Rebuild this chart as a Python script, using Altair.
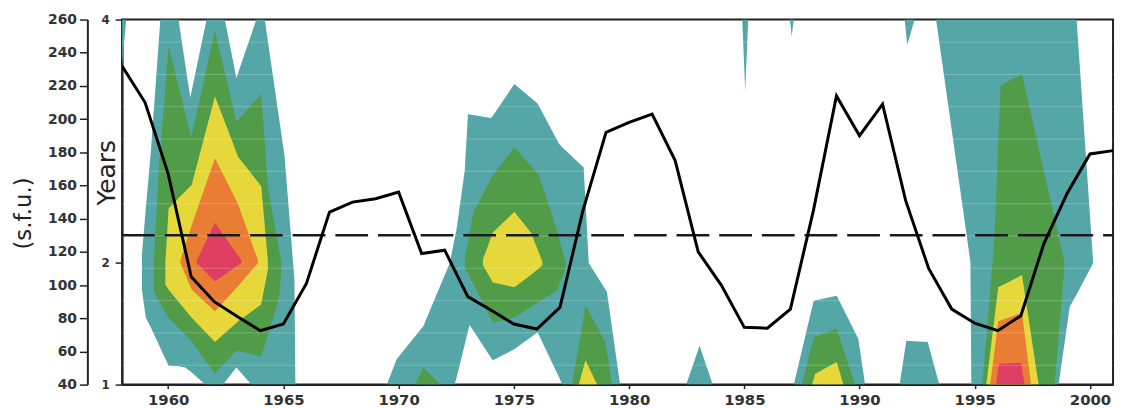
import altair as alt
import pandas as pd

# ---------------- data ----------------
# solar radio flux (s.f.u.), yearly
flux_years = list(range(1958, 2002))
flux_values = [232, 210, 167, 105, 90, 81, 72.5, 76.5, 101, 144,
               150, 152, 156, 119, 121, 93, 85, 76.5, 73.5, 86.5,
               145, 192, 198, 203, 175, 120, 100, 74.5, 74, 85.5,
               145, 214, 190, 209, 151, 110, 85.5, 77, 72.5, 81.5,
               125, 155, 179, 181]
# dashed reference level across the whole span
ref_years = [1958, 2001]
ref_flux = [130, 130]

# wavelet power contours: (year, lower period, upper period) in years
teal_1958 = [(1958.0, 3.62, 4.0), (1958.18, 4.0, 4.0)]
teal_1962 = [(1958.86, 1.78, 2.07), (1959.03, 1.55, 2.45), (1959.25, 1.47, 2.92),
             (1959.66, 1.30, 4.0), (1960.02, 1.155, 4.0), (1960.45, 1.15, 4.0),
             (1960.74, 1.14, 3.63), (1960.96, 1.11, 3.36), (1961.61, 1.0, 3.95),
             (1961.67, 1.0, 4.0), (1962.39, 1.0, 4.0), (1962.46, 1.02, 4.0),
             (1962.96, 1.14, 3.52), (1963.61, 1.0, 3.88), (1963.82, 1.0, 4.0),
             (1964.19, 1.0, 4.0), (1965.05, 1.0, 2.88), (1965.48, 1.0, 1.86),
             (1965.52, 1.0, 1.0)]
teal_1975 = [(1969.49, 1.0, 1.0), (1969.92, 1.0, 1.21), (1971.07, 1.0, 1.48),
             (1972.22, 1.0, 2.0), (1972.43, 1.0, 2.2), (1972.51, 1.055, 2.27),
             (1972.87, 1.33, 2.76), (1973.01, 1.44, 3.225), (1973.08, 1.49, 3.22),
             (1974.01, 1.22, 3.19), (1974.09, 1.20, 3.21), (1975.02, 1.29, 3.47),
             (1976.03, 1.43, 3.31), (1976.96, 1.06, 2.98), (1977.10, 1.0, 2.95),
             (1978.03, 1.0, 2.785), (1978.25, 1.0, 2.0), (1979.04, 1.0, 1.76),
             (1979.61, 1.0, 1.0)]
teal_1983 = [(1982.48, 1.0, 1.0), (1983.06, 1.0, 1.32), (1983.63, 1.0, 1.0)]
teal_1985 = [(1984.91, 4.0, 4.0), (1985.04, 3.41, 4.0), (1985.17, 4.0, 4.0)]
teal_1987 = [(1986.98, 4.0, 4.0), (1987.06, 3.86, 4.0), (1987.14, 4.0, 4.0)]
teal_1988 = [(1987.15, 1.0, 1.0), (1988.01, 1.0, 1.69), (1989.01, 1.0, 1.73),
             (1989.95, 1.0, 1.375), (1990.24, 1.0, 1.0)]
teal_1992_low = [(1991.74, 1.0, 1.0), (1992.03, 1.0, 1.36), (1992.96, 1.0, 1.35),
                 (1993.46, 1.0, 1.0)]
teal_1992_high = [(1991.96, 4.0, 4.0), (1992.07, 3.79, 4.0), (1992.39, 4.0, 4.0)]
teal_1997 = [(1993.32, 4.0, 4.0), (1994.81, 2.01, 4.0), (1994.85, 1.0, 4.0),
             (1998.64, 1.0, 4.0), (1999.12, 1.64, 4.0), (1999.42, 1.74, 4.0),
             (2000.14, 2.0, 2.0)]

green_1962 = [(1959.38, 1.77, 2.01), (1959.59, 1.69, 2.76), (1960.02, 1.55, 3.78),
              (1961.0, 1.36, 3.03), (1962.03, 1.09, 3.91), (1962.96, 1.28, 3.16),
              (1964.04, 1.23, 3.39), (1964.33, 1.41, 2.62), (1964.80, 1.70, 2.12),
              (1964.90, 1.90, 2.01)]
green_1971 = [(1970.71, 1.0, 1.0), (1971.07, 1.0, 1.14), (1971.82, 1.0, 1.0)]
green_1975 = [(1972.87, 1.96, 2.03), (1973.23, 1.83, 2.41), (1974.09, 1.51, 2.72),
              (1975.02, 1.55, 2.95), (1976.09, 1.68, 2.72), (1976.67, 1.75, 2.39),
              (1976.89, 1.78, 2.25), (1977.25, 1.96, 2.0)]
green_1978 = [(1977.53, 1.0, 1.0), (1978.11, 1.0, 1.65), (1978.97, 1.0, 1.35),
              (1979.26, 1.0, 1.0)]
green_1988 = [(1987.5, 1.0, 1.0), (1988.01, 1.0, 1.39), (1989.01, 1.0, 1.46),
              (1989.8, 1.0, 1.0)]
green_1997 = [(1995.33, 1.0, 1.0), (1995.85, 1.0, 2.19), (1996.12, 1.0, 3.46),
              (1997.05, 1.0, 3.55), (1998.47, 1.0, 2.36), (1998.90, 2.0, 2.0)]

yellow_1962 = [(1959.88, 1.82, 2.01), (1960.02, 1.78, 2.45), (1961.02, 1.55, 2.64),
               (1962.03, 1.35, 3.37), (1963.04, 1.52, 2.87), (1964.04, 1.66, 2.63),
               (1964.33, 1.95, 2.01)]
yellow_1975 = [(1973.66, 1.98, 2.03), (1974.09, 1.84, 2.25), (1975.02, 1.80, 2.42),
               (1975.74, 1.90, 2.25), (1976.24, 1.98, 2.01)]
yellow_1978 = [(1977.82, 1.0, 1.0), (1978.11, 1.0, 1.20), (1978.61, 1.0, 1.0)]
yellow_1988 = [(1987.94, 1.0, 1.0), (1988.08, 1.0, 1.09), (1989.01, 1.0, 1.185),
               (1989.3, 1.0, 1.0)]
yellow_1997 = [(1995.50, 1.0, 1.0), (1996.02, 1.0, 1.80), (1997.05, 1.0, 1.90),
               (1997.77, 1.0, 1.0)]

orange_1962 = [(1960.53, 2.0, 2.02), (1961.02, 1.78, 2.31), (1962.03, 1.60, 2.86),
               (1963.04, 1.81, 2.48), (1963.90, 2.0, 2.02)]
orange_1997 = [(1995.67, 1.0, 1.0), (1996.02, 1.0, 1.52), (1997.05, 1.0, 1.59),
               (1997.44, 1.0, 1.0)]

pink_1962 = [(1961.24, 2.0, 2.02), (1962.03, 1.85, 2.33), (1963.18, 2.0, 2.02)]
pink_1997 = [(1995.93, 1.0, 1.0), (1996.04, 1.0, 1.17), (1997.01, 1.0, 1.18),
             (1997.16, 1.0, 1.0)]

levels = ["teal", "green", "yellow", "orange", "pink"]
level_colors = ["#55a7a7", "#509c49", "#e6d83a", "#e97d33", "#de3e62"]
level_blobs = {
    "teal": {"t1958": teal_1958, "t1962": teal_1962, "t1975": teal_1975,
             "t1983": teal_1983, "t1985": teal_1985, "t1987": teal_1987,
             "t1988": teal_1988, "t1992l": teal_1992_low, "t1992h": teal_1992_high,
             "t1997": teal_1997},
    "green": {"g1962": green_1962, "g1971": green_1971, "g1975": green_1975,
              "g1978": green_1978, "g1988": green_1988, "g1997": green_1997},
    "yellow": {"y1962": yellow_1962, "y1975": yellow_1975, "y1978": yellow_1978,
               "y1988": yellow_1988, "y1997": yellow_1997},
    "orange": {"o1962": orange_1962, "o1997": orange_1997},
    "pink": {"p1962": pink_1962, "p1997": pink_1997},
}

# faint light banding visible across the coloured fields
band_periods = [3.815, 3.549, 3.284, 3.018, 2.753, 2.487, 2.222, 1.956, 1.690, 1.425, 1.159]

year_ticks = list(range(1960, 2001, 5))
period_ticks = [1, 2, 4]
flux_ticks = list(range(40, 261, 20))

# ---------------- tables ----------------
rows = []
for lev in levels:
    for name, pts in level_blobs[lev].items():
        for (yr, lo, hi) in pts:
            rows.append({"level": lev, "blob": name, "year": yr, "lo": lo, "hi": hi})
contours = pd.DataFrame(rows)
flux_df = pd.DataFrame({"year": flux_years, "flux": flux_values})
ref_df = pd.DataFrame({"year": ref_years, "flux": ref_flux})
bands_df = pd.DataFrame({"p": band_periods})

FONT = "DejaVu Sans"

x_scale = alt.Scale(domain=[1958, 2001], nice=False, zero=False)
x_axis = alt.Axis(values=year_ticks, format="d", title=None, grid=False,
                  tickSize=4, tickColor="#222", tickWidth=1.5,
                  domainColor="#222", domainWidth=2,
                  labelFont=FONT, labelFontSize=15, labelFontWeight="bold",
                  labelColor="#333", labelPadding=4)

p_scale = alt.Scale(domain=[1, 4], nice=False, zero=False)
p_axis = alt.Axis(orient="left", values=period_ticks, format="d", title="Years",
                  grid=False, tickSize=7, tickColor="#222", tickWidth=1.5,
                  domainColor="#222", domainWidth=2,
                  labelFont=FONT, labelFontSize=12, labelFontWeight="bold",
                  labelColor="#333", labelPadding=6,
                  titleFont=FONT, titleFontSize=25, titleFontWeight="normal",
                  titleColor="#222", titleAngle=270, titleX=-16, titleY=154,
                  titleAlign="center", titleBaseline="middle")

f_scale = alt.Scale(domain=[40, 260], nice=False, zero=False)
f_axis = alt.Axis(orient="left", offset=35, values=flux_ticks, title="(s.f.u.)",
                  grid=False, tickSize=8, tickColor="#222", tickWidth=1.5,
                  domainColor="#222", domainWidth=2,
                  labelFont=FONT, labelFontSize=14, labelFontWeight="bold",
                  labelColor="#333", labelPadding=3,
                  titleFont=FONT, titleFontSize=23, titleFontWeight="normal",
                  titleColor="#222", titleAngle=270, titleX=-64, titleY=195,
                  titleAlign="center", titleBaseline="middle")

X = alt.X("year:Q", scale=x_scale, axis=x_axis)


def band(lev, color):
    return (
        alt.Chart(contours)
        .transform_filter(alt.datum.level == lev)
        .mark_area(color=color, opacity=1, clip=True, interpolate="linear")
        .encode(x=X,
                y=alt.Y("lo:Q", scale=p_scale, axis=p_axis),
                y2="hi:Q",
                detail="blob:N")
    )


band_layers = [band(l, c) for l, c in zip(levels, level_colors)]
stripes = (
    alt.Chart(bands_df)
    .mark_rule(color="white", opacity=0.22, strokeWidth=1)
    .encode(y=alt.Y("p:Q", scale=p_scale, axis=p_axis))
)
contour_layer = alt.layer(*band_layers, stripes)

ref_line = (
    alt.Chart(ref_df)
    .mark_line(color="#1a1a1a", strokeWidth=2.5, strokeDash=[33, 10], clip=True)
    .encode(x=X, y=alt.Y("flux:Q", scale=f_scale, axis=f_axis))
)
flux_line = (
    alt.Chart(flux_df)
    .mark_line(color="black", strokeWidth=3, strokeJoin="miter", clip=True)
    .encode(x=X, y=alt.Y("flux:Q", scale=f_scale, axis=f_axis))
)
flux_layer = alt.layer(ref_line, flux_line)

chart = (
    alt.layer(contour_layer, flux_layer)
    .resolve_scale(y="independent")
    .properties(width=999, height=368,
                autosize=alt.AutoSizeParams(type="none"),
                padding={"left": 115, "top": 10, "right": 4, "bottom": 30},
                background="white")
    .configure_view(stroke="#222", strokeWidth=2)
)

chart.save("out.html", embed_options={"renderer": "svg", "actions": False})
